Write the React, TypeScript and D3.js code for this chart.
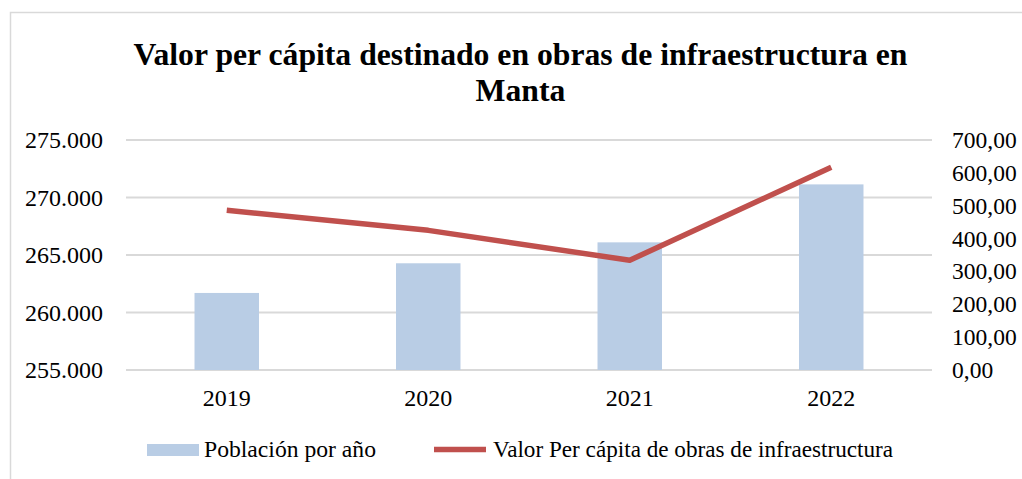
import { useEffect, useRef } from "react";
import * as d3 from "d3";

const years = ["2019", "2020", "2021", "2022"];
const poblacion = [261700, 264280, 266100, 271140];
const valorPerCapita = [486, 425, 334, 617];
const leftTicks = [255000, 260000, 265000, 270000, 275000];
const rightTicks = [0, 100, 200, 300, 400, 500, 600, 700];
const legendLabels = ["Población por año", "Valor Per cápita de obras de infraestructura"];

const fmtLeft = (v: number) => d3.format(",")(v).replace(/,/g, ".");
const fmtRight = (v: number) => v.toFixed(2).replace(".", ",");

function App() {
    const svgRef = useRef<SVGSVGElement | null>(null);

    useEffect(() => {
        if (!svgRef.current) return;
        const width = 1022;
        const height = 479;
        const margin = { top: 140, right: 90, bottom: 109, left: 126 };
        const innerWidth = width - margin.left - margin.right;
        const innerHeight = height - margin.top - margin.bottom;
        const font = "'Liberation Serif', 'Times New Roman', serif";

        const svg = d3.select(svgRef.current);
        svg.selectAll("*").remove();
        svg.attr("width", width).attr("height", height);

        // chart frame
        svg.append("rect")
            .attr("x", 10.5).attr("y", 12.5)
            .attr("width", 1030).attr("height", 480)
            .attr("fill", "#fff")
            .attr("stroke", "#d9d9d9")
            .attr("stroke-width", 1.5);

        // title
        const title = svg.append("text")
            .attr("text-anchor", "middle")
            .style("font-family", font)
            .style("font-weight", "bold")
            .style("font-size", "31.7px")
            .attr("fill", "#000");
        title.append("tspan").attr("x", 520.5).attr("y", 64.5)
            .text("Valor per cápita destinado en obras de infraestructura en");
        title.append("tspan").attr("x", 520.5).attr("y", 101).text("Manta");

        const g = svg.append("g")
            .attr("transform", `translate(${margin.left},${margin.top})`);

        const x = d3.scaleBand().domain(years).range([0, innerWidth]).paddingInner(0.68).paddingOuter(0.34);
        const yLeft = d3.scaleLinear().domain([255000, 275000]).range([innerHeight, 0]);
        const yRight = d3.scaleLinear().domain([0, 700]).range([innerHeight, 0]);

        // gridlines
        g.selectAll("line.grid")
            .data(leftTicks)
            .join("line")
            .attr("class", "grid")
            .attr("x1", 0).attr("x2", innerWidth)
            .attr("y1", d => yLeft(d))
            .attr("y2", d => yLeft(d))
            .attr("stroke", "#d9d9d9")
            .attr("stroke-width", 2);

        // bars
        g.selectAll("rect.bar")
            .data(poblacion)
            .join("rect")
            .attr("class", "bar")
            .attr("x", (d, i) => x(years[i])!)
            .attr("width", x.bandwidth())
            .attr("y", d => yLeft(d))
            .attr("height", d => innerHeight - yLeft(d))
            .attr("fill", "#b9cde5");

        // line
        const line = d3.line<number>()
            .x((d, i) => x(years[i])! + x.bandwidth() / 2)
            .y(d => yRight(d));
        g.append("path")
            .datum(valorPerCapita)
            .attr("fill", "none")
            .attr("stroke", "#c0504d")
            .attr("stroke-width", 5.5)
            .attr("stroke-linejoin", "round")
            .attr("d", line);

        // left axis
        const leftAxis = g.append("g").call(d3.axisLeft(yLeft).tickValues(leftTicks).tickFormat(d => fmtLeft(+d)).tickSize(0).tickPadding(23));
        leftAxis.select(".domain").remove();
        leftAxis.selectAll("text")
            .style("font-family", font).style("font-size", "24px").attr("fill", "#000");

        // right axis
        const rightAxis = g.append("g")
            .attr("transform", `translate(${innerWidth},0)`)
            .call(d3.axisRight(yRight).tickValues(rightTicks).tickFormat(d => fmtRight(+d)).tickSize(0).tickPadding(20));
        rightAxis.select(".domain").remove();
        rightAxis.selectAll("text")
            .style("font-family", font).style("font-size", "23.5px").attr("fill", "#000");

        // x axis
        const xAxis = g.append("g")
            .attr("transform", `translate(0,${innerHeight})`)
            .call(d3.axisBottom(x).tickSize(0).tickPadding(19));
        xAxis.select(".domain").remove();
        xAxis.selectAll("text")
            .style("font-family", font).style("font-size", "24px").attr("fill", "#000");

        // legend
        const legend = svg.append("g").style("font-family", font).style("font-size", "24px");
        legend.append("rect").attr("x", 147).attr("y", 444).attr("width", 52).attr("height", 12).attr("fill", "#b9cde5");
        legend.append("text").attr("x", 204).attr("y", 456.5).attr("fill", "#000")
            .attr("textLength", 172).attr("lengthAdjust", "spacingAndGlyphs")
            .text(legendLabels[0]);
        legend.append("line").attr("x1", 434).attr("x2", 486).attr("y1", 449.5).attr("y2", 449.5)
            .attr("stroke", "#c0504d").attr("stroke-width", 5.5);
        legend.append("text").attr("x", 493).attr("y", 456.5).attr("fill", "#000")
            .attr("textLength", 400).attr("lengthAdjust", "spacingAndGlyphs")
            .text(legendLabels[1]);
    }, []);

    return (
        <div style={{ position: "absolute", left: 0, top: 0 }}>
            <svg ref={svgRef}></svg>
        </div>
    );
}

export default App;
